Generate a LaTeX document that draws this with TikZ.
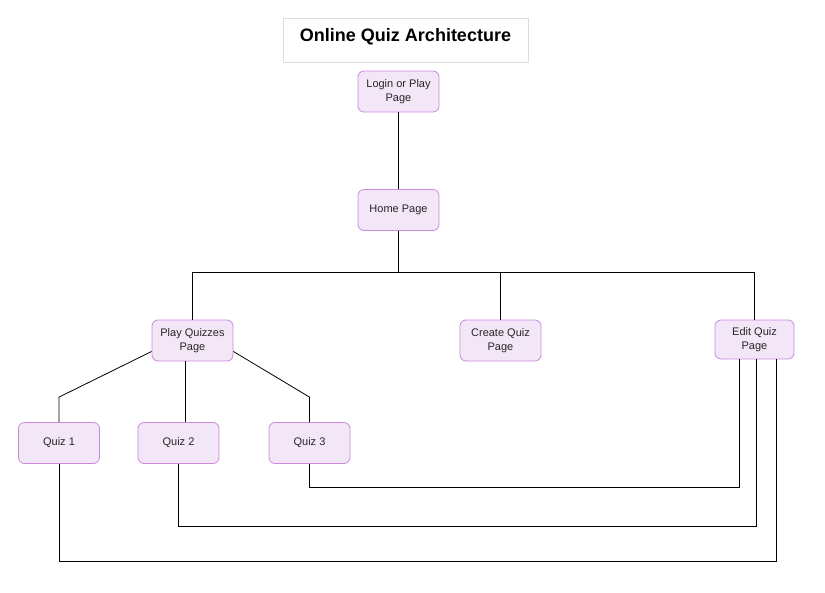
\documentclass[tikz,border=0pt]{standalone}
\usepackage{fontspec}
\setmainfont{Liberation Sans}
\definecolor{pagefill}{HTML}{F3E6F7}
\definecolor{pageline}{HTML}{C98ADE}
\definecolor{titleline}{HTML}{DDDDDD}
\tikzset{
	pagebox/.style={draw=pageline,line width=0.8pt,fill=pagefill,rounded corners=6pt,minimum width=81pt,minimum height=41pt,inner sep=1pt,align=center,font=\fontsize{11}{14.5}\selectfont,text=black!85},
	titlebox/.style={draw=titleline,minimum width=245pt,minimum height=44pt,inner sep=2pt,text height=21.5pt,text depth=18.5pt,font=\fontsize{18}{20}\selectfont\bfseries},
	kante/.style={draw,line width=0.8pt}
}

\begin{document}
\begin{tikzpicture}[x=1pt,y=-1pt]
\useasboundingbox (0,0) rectangle (825,592);
\coordinate (q0) at (405.5,40);
\coordinate (q1) at (398.5,91.5);
\coordinate (q2) at (398.5,210);
\coordinate (q3) at (192.5,340.5);
\coordinate (q4) at (500.5,340.5);
\coordinate (q5) at (754.5,339.5);
\coordinate (q6) at (59,443);
\coordinate (q7) at (178.5,443);
\coordinate (q8) at (309.5,443);
\node[titlebox] (title) at (q0) {Online Quiz Architecture};
\node[pagebox] (login) at (q1) {Login or Play\\Page};
\node[pagebox] (home) at (q2) {Home Page};
\node[pagebox] (play) at (q3) {Play Quizzes\\Page};
\node[pagebox] (create) at (q4) {Create Quiz\\Page};
\node[pagebox,minimum width=79pt,minimum height=39pt] (edit) at (q5) {Edit Quiz\\Page};
\node[pagebox] (quiz1) at (q6) {Quiz 1};
\node[pagebox] (quiz2) at (q7) {Quiz 2};
\node[pagebox] (quiz3) at (q8) {Quiz 3};
% home page and its three pages
\draw[kante] (login) -- (home);
\draw[kante] (home.south) -- ++(0,41) coordinate (bus) -| (play.north);
\draw[kante] (bus) -| (create.north);
\draw[kante] (bus) -| (edit.north);
% quizzes under play
\draw[kante] (play.195) -- ([yshift=25pt]quiz1.north) -- (quiz1.north);
\draw[kante] ([xshift=-7.5pt]play.south) -- ([xshift=-7.5pt]play.south |- quiz2.north);
\draw[kante] (play.-15) -- ([yshift=25pt]quiz3.north) -- (quiz3.north);
% back to edit
\draw[kante] (quiz3.south) -- ++(0,23) -| ([xshift=-15.5pt]edit.south);
\draw[kante] (quiz2.south) -- ++(0,62) -| ([xshift=1.5pt]edit.south);
\draw[kante] (quiz1.south) -- ++(0,97) -| ([xshift=21.5pt]edit.south);
\end{tikzpicture}
\end{document}
